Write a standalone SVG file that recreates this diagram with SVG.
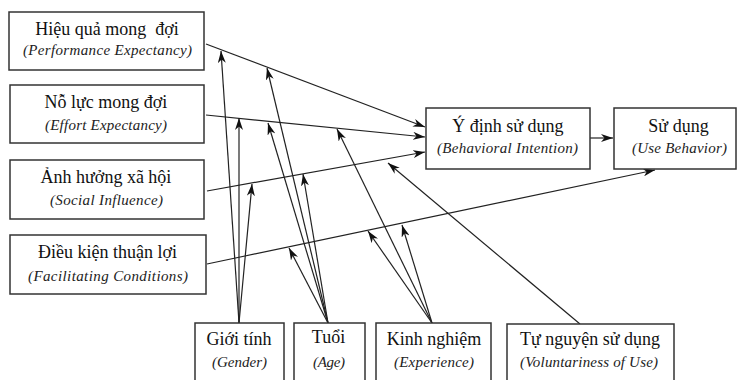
<svg xmlns="http://www.w3.org/2000/svg" width="737" height="380" viewBox="0 0 737 380">
  <style>
    .box { fill: #fff; stroke: #333; stroke-width: 1.5; }
    .t { font-family: "Liberation Serif", "Times New Roman", serif; font-size: 18px; fill: #111; text-anchor: middle; white-space: pre; }
    .s { font-family: "Liberation Serif", "Times New Roman", serif; font-size: 15px; font-style: italic; fill: #222; text-anchor: middle; }
    .c { stroke: #222; stroke-width: 1.2; fill: none; marker-end: url(#ah); }
  </style>
  <defs>
    <marker id="ah" viewBox="0 0 12 8" refX="12" refY="4" markerWidth="12" markerHeight="8" orient="auto" markerUnits="userSpaceOnUse">
      <path d="M0,0 L12,4 L0,8 L3.5,4 z" fill="#111"/>
    </marker>
  </defs>

  <rect width="737" height="380" fill="#fff"/>

  <!-- connectors -->
  <g id="connectors">
    <!-- main paths -->
    <line class="c" x1="206" y1="44" x2="425" y2="127"/>
    <line class="c" x1="206" y1="115" x2="425" y2="137"/>
    <line class="c" x1="207" y1="191" x2="425" y2="152"/>
    <line class="c" x1="207" y1="264" x2="655" y2="170"/>
    <line class="c" x1="590" y1="138" x2="613" y2="138"/>
    <!-- gender -->
    <line class="c" x1="239" y1="323" x2="221" y2="51"/>
    <line class="c" x1="239" y1="323" x2="239" y2="118"/>
    <line class="c" x1="239" y1="323" x2="252" y2="184"/>
    <!-- age -->
    <line class="c" x1="328" y1="323" x2="267" y2="68"/>
    <line class="c" x1="328" y1="323" x2="268" y2="123"/>
    <line class="c" x1="328" y1="323" x2="303" y2="174"/>
    <line class="c" x1="328" y1="323" x2="289" y2="248"/>
    <!-- experience -->
    <line class="c" x1="432" y1="323" x2="337" y2="129"/>
    <line class="c" x1="432" y1="323" x2="368" y2="231"/>
    <line class="c" x1="432" y1="323" x2="402" y2="225"/>
    <!-- voluntariness -->
    <line class="c" x1="580" y1="324" x2="388" y2="163"/>
  </g>

  <g id="performance">
    <rect class="box" x="9" y="12" width="195" height="58"/>
    <text class="t" x="107" y="35" xml:space="preserve">Hiệu quả mong  đợi</text>
    <text class="s" x="107.5" y="55" textLength="169" lengthAdjust="spacing">(Performance Expectancy)</text>
  </g>
  <g id="effort">
    <rect class="box" x="10" y="85" width="194" height="58"/>
    <text class="t" x="106" y="108">Nỗ lực mong đợi</text>
    <text class="s" x="106" y="130" textLength="122" lengthAdjust="spacing">(Effort Expectancy)</text>
  </g>
  <g id="social">
    <rect class="box" x="10" y="160" width="194" height="59"/>
    <text class="t" x="106" y="183">Ảnh hưởng xã hội</text>
    <text class="s" x="106.5" y="205" textLength="113" lengthAdjust="spacing">(Social Influence)</text>
  </g>
  <g id="facilitating">
    <rect class="box" x="10" y="235" width="196" height="59"/>
    <text class="t" x="107.5" y="258">Điều kiện thuận lợi</text>
    <text class="s" x="108" y="281" textLength="160" lengthAdjust="spacing">(Facilitating Conditions)</text>
  </g>
  <g id="intention">
    <rect class="box" x="426" y="108" width="164" height="61"/>
    <text class="t" x="508" y="132">Ý định sử dụng</text>
    <text class="s" x="507.5" y="153" textLength="141" lengthAdjust="spacing">(Behavioral Intention)</text>
  </g>
  <g id="use">
    <rect class="box" x="614" y="108" width="122" height="61"/>
    <text class="t" x="678.5" y="132">Sử dụng</text>
    <text class="s" x="679.5" y="153" textLength="95" lengthAdjust="spacing">(Use Behavior)</text>
  </g>
  <g id="gender">
    <rect class="box" x="195" y="323" width="89" height="70"/>
    <text class="t" x="239" y="345">Giới tính</text>
    <text class="s" x="239.5" y="367" textLength="55" lengthAdjust="spacing">(Gender)</text>
  </g>
  <g id="age">
    <rect class="box" x="294" y="323" width="71" height="70"/>
    <text class="t" x="328.5" y="343">Tuổi</text>
    <text class="s" x="329" y="367" textLength="32" lengthAdjust="spacing">(Age)</text>
  </g>
  <g id="experience">
    <rect class="box" x="376" y="323" width="115" height="70"/>
    <text class="t" x="434" y="345">Kinh nghiệm</text>
    <text class="s" x="434" y="367" textLength="80" lengthAdjust="spacing">(Experience)</text>
  </g>
  <g id="voluntariness">
    <rect class="box" x="507" y="324" width="167" height="70"/>
    <text class="t" x="590" y="345">Tự nguyện sử dụng</text>
    <text class="s" x="589" y="367" textLength="138" lengthAdjust="spacing">(Voluntariness of Use)</text>
  </g>
</svg>
